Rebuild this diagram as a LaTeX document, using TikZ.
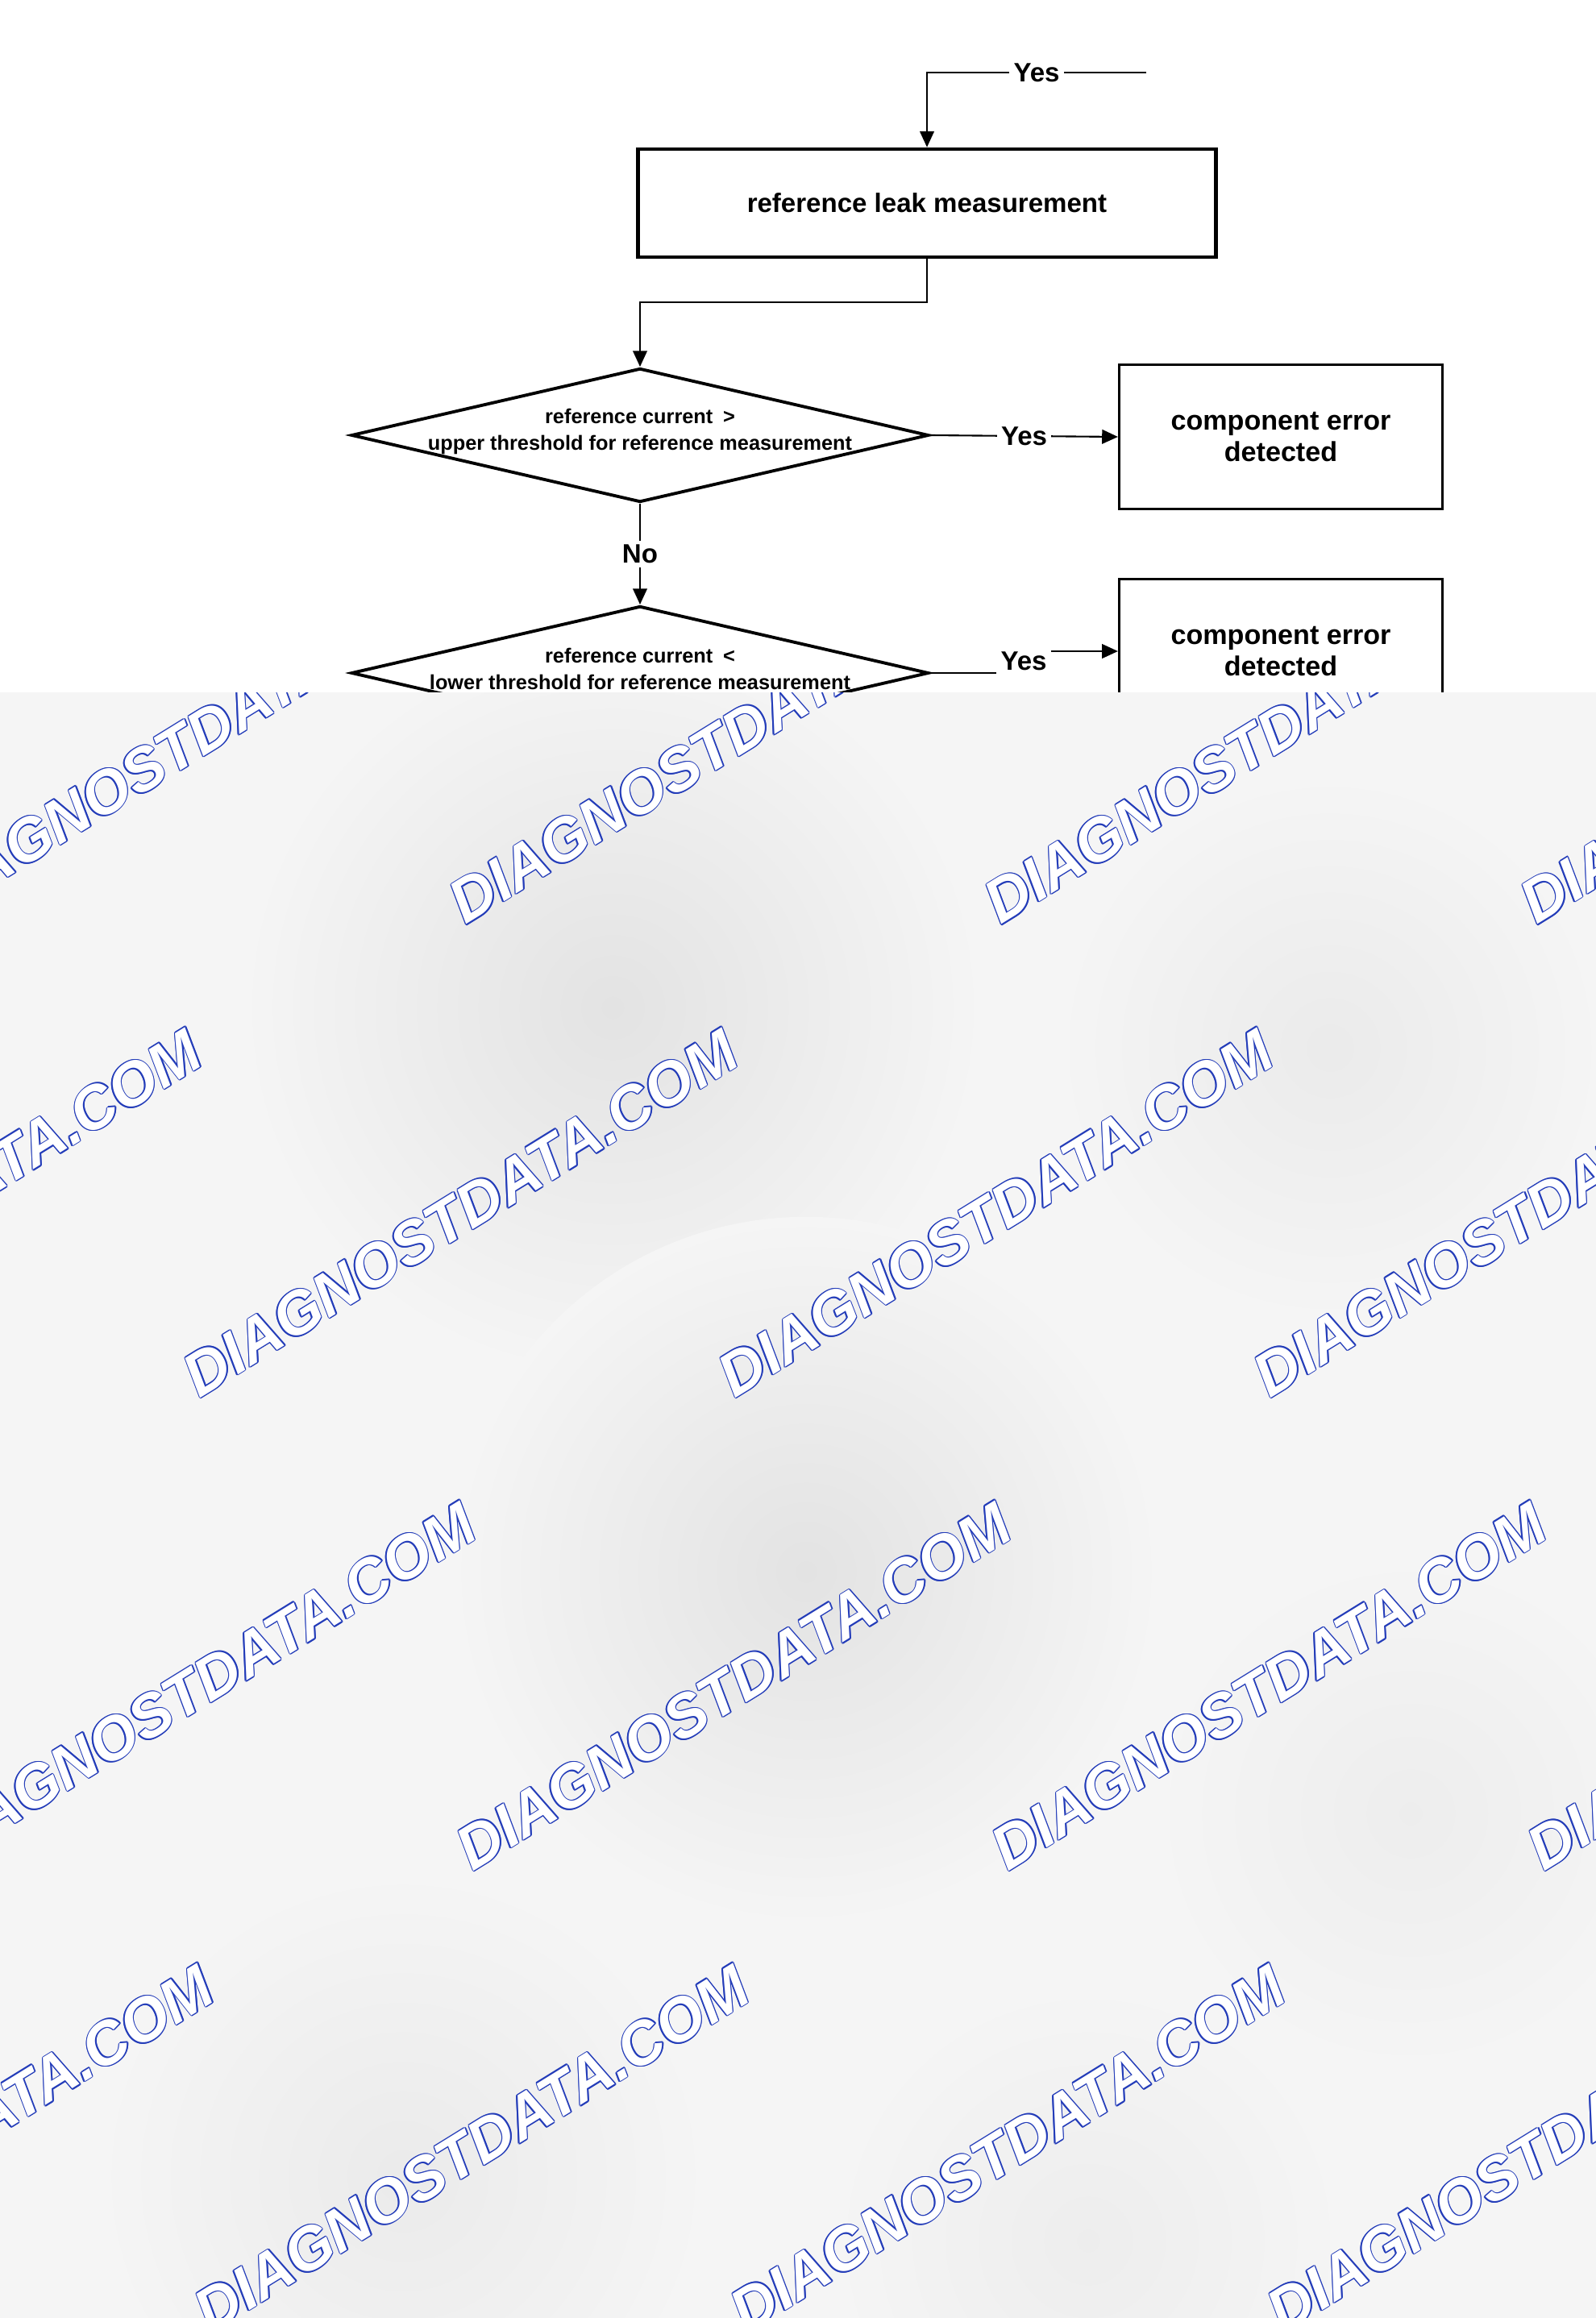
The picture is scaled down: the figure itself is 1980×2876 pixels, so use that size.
\documentclass[tikz,border=0pt]{standalone}
\usepackage{fontspec}
\setmainfont{Liberation Sans}
\usepackage{tikz}
\usetikzlibrary{shapes.geometric}
\usetikzlibrary{arrows.meta}
\usepackage{xcolor}
\definecolor{wmblue}{RGB}{35,60,185}
\definecolor{wmback}{RGB}{245,245,245}

\tikzset{
  procbox/.style={draw, line width=1.3pt, minimum width=7.17cm, minimum height=1.34cm, inner sep=0pt,
    font=\fontsize{9.4}{11}\selectfont\bfseries},
  errbox/.style={draw, line width=0.85pt, minimum width=4.01cm, minimum height=1.79cm, inner sep=0pt,
    align=center, font=\fontsize{9.7}{11.1}\selectfont\bfseries},
  decision/.style={draw, diamond, line width=1.1pt, minimum width=7.16cm, minimum height=1.66cm, inner sep=0pt},
  dtext/.style={align=center, inner sep=0pt, font=\fontsize{7.2}{9.4}\selectfont\bfseries},
  conn/.style={line width=0.6pt},
  arr/.style={conn, -{Triangle[length=5.6pt,width=5pt]}},
  lbl/.style={fill=white, inner sep=1.5pt, font=\fontsize{9.4}{11}\selectfont\bfseries},
  wmtext/.style={rotate=31.7, inner sep=0pt, font=\fontsize{21.4}{24}\selectfont\bfseries\itshape},
}

% watermark: blue outline, white inside
\newcommand{\wmark}[2]{%
  \foreach \ox/\oy in {0.42/0,-0.42/0,0/0.42,0/-0.42,0.3/0.3,-0.3/0.3,0.3/-0.3,-0.3/-0.3}
    \node[wmtext, wmblue, xshift=\ox pt, yshift=\oy pt] at (#1,#2) {DIAGNOSTDATA.COM};
  \node[wmtext, white] at (#1,#2) {DIAGNOSTDATA.COM};
}

\begin{document}
\begin{tikzpicture}[x=0.01cm, y=-0.01cm]
    % page
    \fill[white] (0,0) rectangle (1980,2876);
    \useasboundingbox (0,0) rectangle (1980,2876);

    % boxes and decisions
    \node[procbox] (b1) at (1150,252) {reference leak measurement};
    \node[decision] (d1) at (794,540) {};
    \node[dtext] (t1) at (794,535) {reference current\enspace >\\upper threshold for reference measurement};
    \node[errbox] (b2) at (1589,542) {component error\\detected};
    \node[decision] (d2) at (794,835) {};
    \node[dtext] (t2) at (794,830) {reference current\enspace <\\lower threshold for reference measurement};
    \node[errbox] (b3) at (1589,808) {component error\\detected};

    % connectors
    \coordinate (topin) at (1422,90);
    \coordinate (topc) at (b1.north |- topin);
    \draw[arr] (topin) -- node[lbl]{Yes} (topc) -- (b1.north);
    \draw[arr] (b1.south) -- ++(0,54) -| (d1.north);
    \draw[arr] (d1.east) -- node[lbl]{Yes} (b2.west);
    \draw[arr] (d1.south) -- node[lbl]{No} (d2.north);
    \draw[conn] (d2.east) -- ++(83,0) coordinate (y2a);
    \node[lbl] (yes2) at (1270,820) {Yes};
    \draw[arr] (yes2.east |- b3.west) -- (b3.west);

    % lower part: grey background with watermarks
\begin{scope}
    \clip (0,859) rectangle (1980,2876);
    \fill[wmback] (0,859) rectangle (1980,2876);
    \shade[inner color=gray!22, outer color=wmback] (760,1250) circle (4.6cm);
    \shade[inner color=gray!16, outer color=wmback] (1650,1300) circle (3.4cm);
    \shade[inner color=gray!22, outer color=wmback] (1000,1950) circle (4.4cm);
    \shade[inner color=gray!14, outer color=wmback] (1750,2250) circle (3.2cm);
    \shade[inner color=gray!16, outer color=wmback] (500,2700) circle (3.8cm);
    \shade[inner color=gray!14, outer color=wmback] (1350,2780) circle (3.2cm);
    \wmark{237}{918}
    \wmark{901}{918}
    \wmark{1565}{918}
    \wmark{2230}{918}
    \wmark{-94}{1505}
    \wmark{571}{1505}
    \wmark{1235}{1505}
    \wmark{1899}{1505}
    \wmark{246}{2092}
    \wmark{910}{2092}
    \wmark{1574}{2092}
    \wmark{2239}{2092}
    \wmark{-79}{2666}
    \wmark{585}{2666}
    \wmark{1250}{2666}
    \wmark{1916}{2666}
\end{scope}
\end{tikzpicture}
\end{document}
